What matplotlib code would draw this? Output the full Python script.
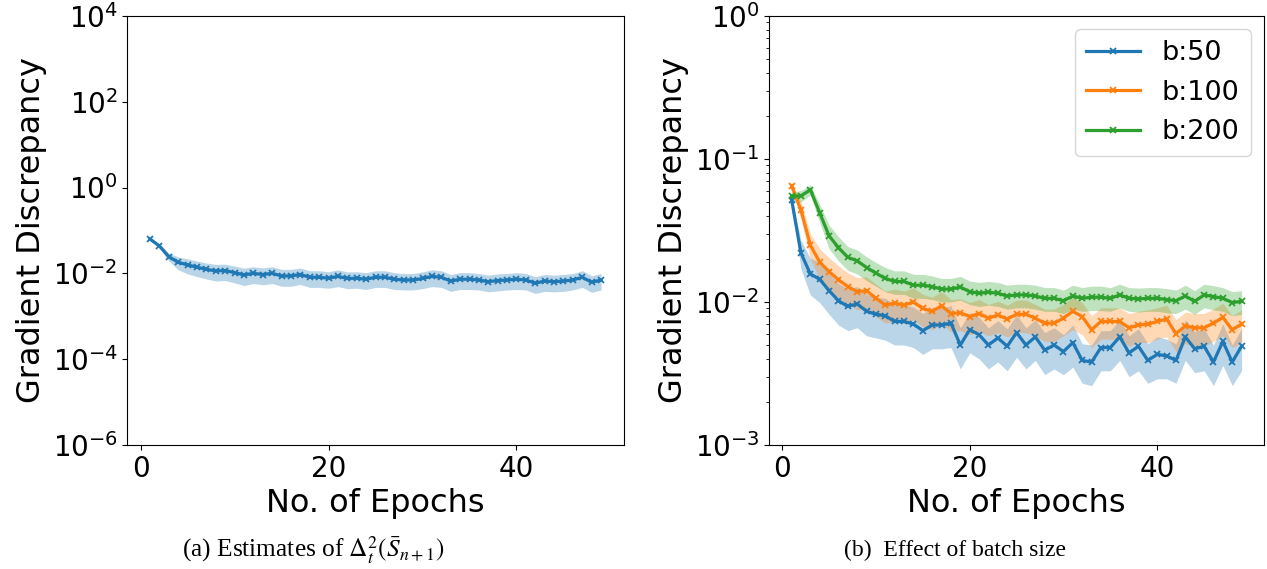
import matplotlib
matplotlib.use("Agg")
import matplotlib.pyplot as plt
import matplotlib.ticker as mticker
import numpy as np

plt.rcParams['font.family'] = ['DejaVu Sans']
plt.rcParams['mathtext.fontset'] = 'dejavusans'

epochs = list(range(1, 50))

# Panel (a): single estimate
est_mean = [0.063, 0.0435, 0.0245, 0.0181, 0.0157, 0.0139, 0.0124, 0.0114, 0.0116, 0.0104,
            0.0092, 0.0100, 0.0094, 0.0100, 0.0087, 0.0087, 0.0094, 0.0081, 0.0081, 0.0077,
            0.0085, 0.0076, 0.0077, 0.0073, 0.0081, 0.0081, 0.0073, 0.0070, 0.0070, 0.0076,
            0.0085, 0.0081, 0.0066, 0.0073, 0.0073, 0.0070, 0.0064, 0.0068, 0.0070, 0.0073,
            0.0070, 0.0059, 0.0066, 0.0064, 0.0066, 0.0070, 0.0081, 0.0062, 0.0070]
est_std = [0.004, 0.005, 0.005, 0.006, 0.006, 0.0055, 0.005, 0.0048, 0.0048, 0.0044,
           0.0040, 0.0042, 0.0040, 0.0042, 0.0037, 0.0037, 0.0039, 0.0034, 0.0034, 0.0032,
           0.0036, 0.0032, 0.0032, 0.0031, 0.0034, 0.0034, 0.0031, 0.0029, 0.0029, 0.0032,
           0.0036, 0.0034, 0.0028, 0.0031, 0.0031, 0.0029, 0.0027, 0.0029, 0.0029, 0.0031,
           0.0029, 0.0025, 0.0028, 0.0027, 0.0028, 0.0029, 0.0034, 0.0026, 0.0029]

# Panel (b): batch sizes
b50_mean = [0.052, 0.022, 0.0157, 0.0144, 0.0120, 0.0102, 0.0093, 0.0097, 0.0086, 0.0082,
            0.0080, 0.0073, 0.0073, 0.0070, 0.0063, 0.0069, 0.0069, 0.0071, 0.0050, 0.0064,
            0.0059, 0.0050, 0.0056, 0.0049, 0.0061, 0.0050, 0.0057, 0.0046, 0.0050, 0.0045,
            0.0052, 0.0039, 0.0038, 0.0048, 0.0048, 0.0057, 0.0044, 0.0049, 0.0039, 0.0043,
            0.0042, 0.0039, 0.0057, 0.0047, 0.0049, 0.0038, 0.0053, 0.0038, 0.0049]
b50_std = [0.003, 0.005, 0.0045, 0.0045, 0.0038, 0.0033, 0.0030, 0.0031, 0.0028, 0.0026,
           0.0026, 0.0023, 0.0023, 0.0022, 0.0020, 0.0022, 0.0022, 0.0023, 0.0016, 0.0020,
           0.0019, 0.0016, 0.0018, 0.0016, 0.0020, 0.0016, 0.0018, 0.0015, 0.0016, 0.0014,
           0.0017, 0.0012, 0.0012, 0.0015, 0.0015, 0.0018, 0.0014, 0.0016, 0.0012, 0.0014,
           0.0013, 0.0012, 0.0018, 0.0015, 0.0016, 0.0012, 0.0017, 0.0012, 0.0016]

b100_mean = [0.065, 0.044, 0.025, 0.019, 0.0163, 0.0143, 0.0128, 0.0118, 0.0120, 0.0106,
             0.0095, 0.0098, 0.0095, 0.0100, 0.0090, 0.0086, 0.0094, 0.0083, 0.0084, 0.0079,
             0.0083, 0.0077, 0.0081, 0.0076, 0.0082, 0.0082, 0.0077, 0.0071, 0.0071, 0.0077,
             0.0086, 0.0079, 0.0064, 0.0073, 0.0073, 0.0073, 0.0066, 0.0069, 0.0070, 0.0073,
             0.0076, 0.0060, 0.0068, 0.0066, 0.0066, 0.0071, 0.0078, 0.0064, 0.0070]
b100_std = [0.003, 0.006, 0.005, 0.0045, 0.0041, 0.0036, 0.0032, 0.0030, 0.0030, 0.0027,
            0.0024, 0.0025, 0.0024, 0.0025, 0.0023, 0.0022, 0.0024, 0.0021, 0.0021, 0.0020,
            0.0021, 0.0019, 0.0020, 0.0019, 0.0021, 0.0021, 0.0019, 0.0018, 0.0018, 0.0019,
            0.0022, 0.0020, 0.0016, 0.0018, 0.0018, 0.0018, 0.0017, 0.0017, 0.0018, 0.0018,
            0.0019, 0.0015, 0.0017, 0.0017, 0.0017, 0.0018, 0.0020, 0.0016, 0.0018]

b200_mean = [0.055, 0.055, 0.061, 0.042, 0.029, 0.024, 0.0205, 0.0194, 0.0174, 0.0159,
             0.0146, 0.0139, 0.0139, 0.0131, 0.0131, 0.0128, 0.0123, 0.0123, 0.0127, 0.0118,
             0.0115, 0.0117, 0.0115, 0.0110, 0.0112, 0.0112, 0.0110, 0.0106, 0.0106, 0.0102,
             0.0110, 0.0106, 0.0108, 0.0108, 0.0106, 0.0112, 0.0106, 0.0105, 0.0106, 0.0106,
             0.0104, 0.0102, 0.0110, 0.0101, 0.0112, 0.0109, 0.0106, 0.0099, 0.0101]
b200_std = [0.004, 0.005, 0.005, 0.006, 0.0055, 0.0046, 0.0039, 0.0037, 0.0033, 0.0030,
            0.0028, 0.0026, 0.0026, 0.0025, 0.0025, 0.0024, 0.0023, 0.0023, 0.0024, 0.0022,
            0.0022, 0.0022, 0.0022, 0.0021, 0.0021, 0.0021, 0.0021, 0.0020, 0.0020, 0.0019,
            0.0021, 0.0020, 0.0021, 0.0021, 0.0020, 0.0021, 0.0020, 0.0020, 0.0020, 0.0020,
            0.0020, 0.0019, 0.0021, 0.0019, 0.0021, 0.0021, 0.0020, 0.0019, 0.0019]

series_labels = ['b:50', 'b:100', 'b:200']
colors = ['#1f77b4', '#ff7f0e', '#2ca02c']

caption_a = r'(a) Estimates of $\Delta_t^2(\bar{S}_{n+1})$'
caption_b = '(b)  Effect of batch size'

fig = plt.figure(figsize=(12.67, 5.69), dpi=100)
ax1 = fig.add_axes([0.1006, 0.218, 0.3916, 0.754])
ax2 = fig.add_axes([0.607, 0.218, 0.3907, 0.754])

TICK_FS = 20
LABEL_FS = 23

def draw(ax, mean, std, color, label=None):
    m = np.array(mean)
    s = np.array(std)
    ax.fill_between(epochs, m - s, m + s, color=color, alpha=0.3, linewidth=0)
    ax.plot(epochs, m, color=color, marker='x', markersize=5, linewidth=2.3,
            markeredgewidth=1.3, label=label)

draw(ax1, est_mean, est_std, colors[0])
ax1.set_yscale('log')
ax1.set_ylim(1e-6, 1e4)
ax1.yaxis.set_major_locator(mticker.FixedLocator([1e-6, 1e-4, 1e-2, 1e0, 1e2, 1e4]))
ax1.yaxis.set_minor_locator(mticker.NullLocator())

for mean, std, c, lab in zip([b50_mean, b100_mean, b200_mean],
                             [b50_std, b100_std, b200_std], colors, series_labels):
    draw(ax2, mean, std, c, lab)
ax2.set_yscale('log')
ax2.set_ylim(1e-3, 1e0)

for ax in (ax1, ax2):
    ax.set_xticks([0, 20, 40])
    ax.tick_params(axis='both', which='major', labelsize=TICK_FS)
    ax.set_xlabel('No. of Epochs', fontsize=LABEL_FS)
    ax.set_ylabel('Gradient Discrepancy', fontsize=LABEL_FS)

ax2.legend(loc='upper right', fontsize=19.5, handlelength=2.0)

fig.text(0.2475, 0.033, caption_a, ha='center', va='center', fontsize=18.3,
         family='Liberation Serif', math_fontfamily='stix')
fig.text(0.7535, 0.033, caption_b, ha='center', va='center', fontsize=17,
         family='Liberation Serif')

fig.savefig('out.png', dpi=100)
